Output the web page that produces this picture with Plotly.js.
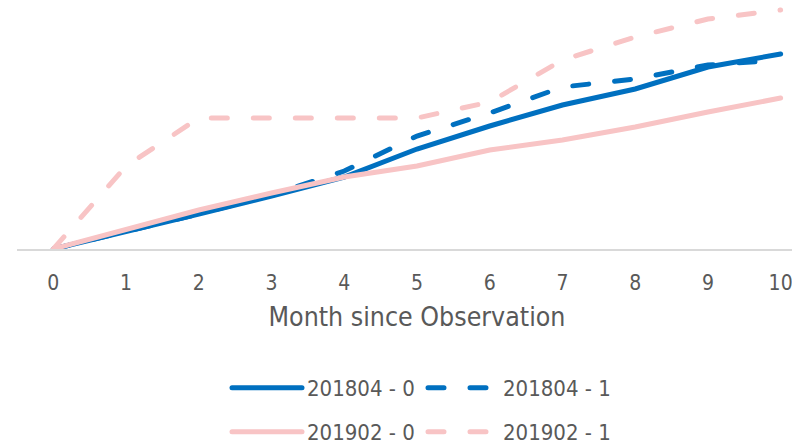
<!DOCTYPE html>
<html>
<head>
<meta charset="utf-8">
<script src="https://cdn.plot.ly/plotly-3.0.1.min.js"></script>
<style>
  html, body { margin: 0; padding: 0; background: #fff; overflow: hidden; }
  #chart { width: 817px; height: 446px; }
  .scatterlayer path.js-line, .legendlines path { stroke-linecap: round; }
</style>
</head>
<body>
<div id="chart"></div>
<script>
// Data
const months = [0, 1, 2, 3, 4, 5, 6, 7, 8, 9, 10];
const s201804_0 = [0, 1.7, 3.5, 5.3, 7.2, 10.0, 12.3, 14.4, 16.0, 18.2, 19.5];
const s201804_1 = [0, 1.7, 3.5, 5.4, 7.8, 11.3, 13.6, 16.2, 17.0, 18.4, 18.9];
const s201902_0 = [0, 2.0, 3.9, 5.6, 7.2, 8.3, 9.9, 10.9, 12.2, 13.7, 15.1];
const s201902_1 = [0, 8.3, 13.1, 13.1, 13.1, 13.1, 14.7, 18.9, 21.2, 23.0, 23.9];
const seriesNames = ["201804 - 0", "201804 - 1", "201902 - 0", "201902 - 1"];
const tickLabels = ["0", "1", "2", "3", "4", "5", "6", "7", "8", "9", "10"];

const BLUE = "#0070C0";
const PINK = "#F8C4C5";
const FONT = "DejaVu Sans Condensed, DejaVu Sans, sans-serif";
const W = 817, H = 446;

const traces = [
  { x: months, y: s201804_0, name: seriesNames[0], legend: "legend",
    line: { color: BLUE, width: 5, dash: "solid" } },
  { x: months, y: s201804_1, name: seriesNames[1], legend: "legend2",
    line: { color: BLUE, width: 5, dash: "16px,26px" } },
  { x: months, y: s201902_0, name: seriesNames[2], legend: "legend3",
    line: { color: PINK, width: 5, dash: "solid" } },
  { x: months, y: s201902_1, name: seriesNames[3], legend: "legend4",
    line: { color: PINK, width: 5, dash: "16px,26px" } }
].map(t => Object.assign({ type: "scatter", mode: "lines", hoverinfo: "skip" }, t));

function leg(xpx, ypx) {
  return {
    xref: "container", yref: "container",
    x: xpx / W, y: 1 - ypx / H,
    xanchor: "left", yanchor: "middle",
    orientation: "h", itemwidth: 70,
    bgcolor: "rgba(0,0,0,0)", borderwidth: 0,
    font: { family: FONT, size: 22, color: "#595959" }
  };
}

const layout = {
  width: W, height: H,
  margin: { l: 17, r: 0, t: 0, b: 197, pad: 0 },
  paper_bgcolor: "#ffffff", plot_bgcolor: "#ffffff",
  showlegend: true,
  xaxis: {
    range: [-0.5, 10.5],
    tickvals: months, ticktext: tickLabels,
    showgrid: false, zeroline: false,
    showline: true, linecolor: "#D9D9D9", linewidth: 2,
    ticks: "", ticklabelstandoff: 14, ticklabeloverflow: "allow",
    tickfont: { family: FONT, size: 21, color: "#595959" },
    title: { text: "Month since Observation", standoff: 13,
             font: { family: FONT, size: 26.5, color: "#595959" } },
    fixedrange: true
  },
  yaxis: {
    range: [0, 24.9],
    visible: false, showgrid: false, zeroline: false,
    fixedrange: true
  },
  legend: leg(227, 388),
  legend2: leg(423, 388),
  legend3: leg(227, 432),
  legend4: leg(423, 432)
};

Plotly.newPlot("chart", traces, layout, { displayModeBar: false, staticPlot: true });
</script>
</body>
</html>
